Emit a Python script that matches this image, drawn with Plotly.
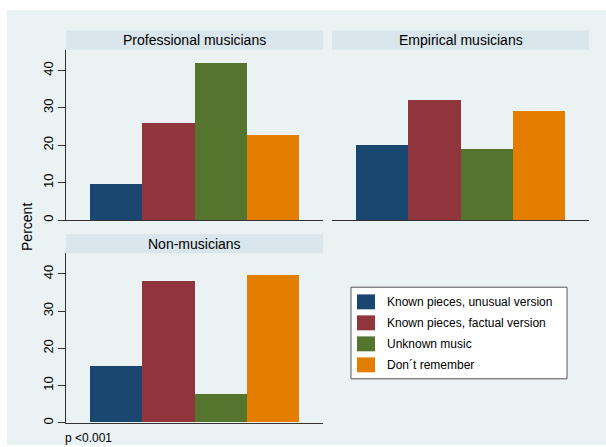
import plotly.graph_objects as go

# ---- data ----
groups = ["Professional musicians", "Empirical musicians", "Non-musicians"]
categories = ["Known pieces, unusual version", "Known pieces, factual version",
              "Unknown music", "Don\u00b4t remember"]
professional = [9.8, 25.9, 42.0, 22.7]
empirical = [20.2, 32.1, 19.1, 29.1]
non_musicians = [15.2, 37.9, 7.7, 39.5]
y_ticks = [0, 10, 20, 30, 40]
note = "p <0.001"

colors = ["#1a476f", "#90353b", "#55752f", "#e37e00"]
values = [professional, empirical, non_musicians]

W, H = 606, 447
def px(x): return x / W
def py(y): return 1 - y / H

FONT = "Liberation Sans, Arial, sans-serif"
BG = "#eaf2f3"
STRIP = "#d9e6eb"

# panel pixel boxes: (x0, x1, top, bottom)
panels = [(66, 323, 50, 221), (332, 589, 50, 221), (66, 323, 254.5, 424.7)]
strip_h = 19.3

fig = go.Figure()
layout = dict(width=W, height=H, margin=dict(l=0, r=0, t=0, b=0),
              paper_bgcolor="white", plot_bgcolor="white",
              barmode="overlay", bargap=0, showlegend=False,
              font=dict(family=FONT, color="#000"))
shapes = [dict(type="rect", xref="paper", yref="paper", x0=px(7), x1=1, y0=0, y1=py(10),
               fillcolor=BG, line_width=0, layer="below")]
annotations = []

for i, (g, vals) in enumerate(zip(groups, values)):
    sfx = "" if i == 0 else str(i + 1)
    x0, x1, top, bot = panels[i]
    for c, v, col in zip(categories, vals, colors):
        fig.add_trace(go.Bar(x=[c], y=[v], marker_color=col, marker_line_width=0,
                             xaxis="x" + sfx, yaxis="y" + sfx, name=c))
    show_y = i != 1
    layout["xaxis" + sfx] = dict(domain=[px(x0), px(x1)], anchor="y" + sfx,
                                 type="category", categoryarray=categories,
                                 range=[-0.96, 3.96], showticklabels=False, ticks="",
                                 showgrid=False, showline=True, linecolor="#333",
                                 linewidth=1, zeroline=False, fixedrange=True)
    layout["yaxis" + sfx] = dict(domain=[py(bot), py(top)], anchor="x" + sfx,
                                 range=[0, 45.5], tickvals=y_ticks,
                                 showticklabels=show_y, ticks="outside" if show_y else "",
                                 ticklen=7, tickcolor="#333", tickangle=-90,
                                 tickfont=dict(size=13, family=FONT, color="#000"),
                                 showgrid=True, gridcolor=BG, gridwidth=1,
                                 showline=show_y, linecolor="#333", linewidth=1,
                                 zeroline=False, fixedrange=True)
    # strip title
    shapes.append(dict(type="rect", xref="paper", yref="paper",
                       x0=px(x0), x1=px(x1), y0=py(top), y1=py(top - strip_h),
                       fillcolor=STRIP, line_width=0, layer="below"))
    annotations.append(dict(text=g, xref="paper", yref="paper",
                            x=px((x0 + x1) / 2), y=py(top - strip_h / 2),
                            showarrow=False, font=dict(size=14, family=FONT, color="#000"),
                            xanchor="center", yanchor="middle"))

# y-axis title
annotations.append(dict(text="Percent", xref="paper", yref="paper", x=px(27), y=py(228),
                        textangle=-90, showarrow=False,
                        font=dict(size=14, family=FONT, color="#000"),
                        xanchor="center", yanchor="middle"))
# note
annotations.append(dict(text=note, xref="paper", yref="paper", x=px(63), y=py(440),
                        showarrow=False, font=dict(size=12, family=FONT, color="#000"),
                        xanchor="left", yanchor="middle"))

# manual legend
lx0, lx1, ly0, ly1 = 351, 567, 288.5, 380.5
shapes.append(dict(type="rect", xref="paper", yref="paper", x0=px(lx0), x1=px(lx1),
                   y0=py(ly1), y1=py(ly0), fillcolor="white",
                   line=dict(color="#555", width=1)))
for k, (c, col) in enumerate(zip(categories, colors)):
    cy = 303.2 + k * 21.1
    shapes.append(dict(type="rect", xref="paper", yref="paper",
                       x0=px(357), x1=px(375), y0=py(cy + 7.5), y1=py(cy - 7.5),
                       fillcolor=col, line_width=0))
    annotations.append(dict(text=c, xref="paper", yref="paper", x=px(385), y=py(cy),
                            showarrow=False, font=dict(size=12, family=FONT, color="#000"),
                            xanchor="left", yanchor="middle"))

layout["shapes"] = shapes
layout["annotations"] = annotations
fig.update_layout(**layout)
fig.write_html("out.html")
